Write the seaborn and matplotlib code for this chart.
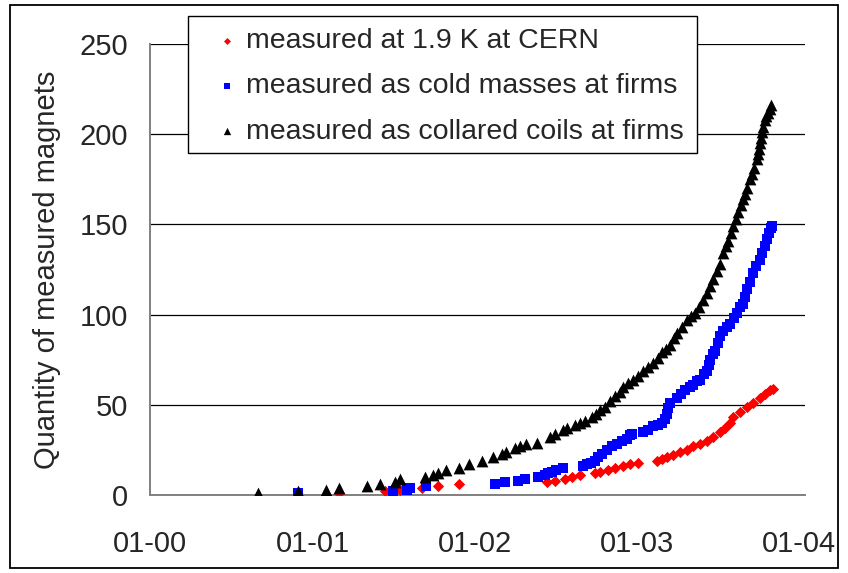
import numpy as np
import pandas as pd
import matplotlib
matplotlib.use("Agg")
import matplotlib.pyplot as plt
import matplotlib.dates as mdates
from matplotlib.patches import Rectangle
import seaborn as sns

# Measurement dates (decimal years) and cumulative number of measured magnets
red_t = [2001.165, 2001.448, 2001.541, 2001.676, 2001.775, 2001.904, 2002.447, 2002.496,
         2002.558, 2002.601, 2002.650, 2002.743, 2002.773, 2002.823, 2002.866, 2002.915,
         2002.958, 2003.008, 2003.125, 2003.156, 2003.186, 2003.223, 2003.267, 2003.310,
         2003.347, 2003.390, 2003.433, 2003.470, 2003.513, 2003.544, 2003.575, 2003.593,
         2003.636, 2003.680, 2003.716, 2003.760, 2003.791, 2003.821, 2003.840]
red_n = [1, 2, 3, 4, 5, 6, 7, 8, 9, 10, 11, 12, 13, 14, 15, 16, 17, 18, 19, 20, 21, 22,
         24, 25, 27, 28, 30, 32, 35, 37, 40, 43, 46, 49, 51, 54, 56, 58, 59]

blue_t = [2000.912, 2001.498, 2001.584, 2001.602, 2001.701, 2002.126, 2002.188, 2002.268,
          2002.311, 2002.391, 2002.435, 2002.453, 2002.478, 2002.502, 2002.545, 2002.669,
          2002.693, 2002.718, 2002.743, 2002.761, 2002.786, 2002.817, 2002.847, 2002.878,
          2002.909, 2002.940, 2002.958, 2002.971, 2003.039, 2003.069, 2003.100, 2003.131,
          2003.156, 2003.174, 2003.186, 2003.193, 2003.205, 2003.248, 2003.273, 2003.297,
          2003.328, 2003.347, 2003.371, 2003.390, 2003.414, 2003.433, 2003.445, 2003.451,
          2003.470, 2003.482, 2003.501, 2003.513, 2003.532, 2003.556, 2003.575, 2003.599,
          2003.618, 2003.636, 2003.655, 2003.667, 2003.680, 2003.698, 2003.716, 2003.735,
          2003.760, 2003.772, 2003.791, 2003.803, 2003.815, 2003.827, 2003.834]
blue_n = [1, 2, 3, 4, 5, 6, 7, 8, 9, 10, 11, 12, 13, 14, 15, 16, 17, 18, 19, 21, 23, 25,
          27, 28, 30, 31, 33, 34, 35, 36, 38, 39, 40, 42, 45, 48, 51, 54, 56, 58, 60, 61,
          63, 64, 67, 69, 72, 75, 78, 80, 84, 88, 91, 93, 95, 98, 101, 104, 106, 110, 114,
          118, 123, 127, 130, 134, 138, 142, 145, 148, 149]

black_t = [2000.666, 2000.912, 2001.085, 2001.165, 2001.337, 2001.418, 2001.510, 2001.541,
           2001.695, 2001.744, 2001.775, 2001.824, 2001.904, 2001.966, 2002.046, 2002.114,
           2002.169, 2002.194, 2002.250, 2002.280, 2002.317, 2002.385, 2002.465, 2002.496,
           2002.545, 2002.570, 2002.619, 2002.650, 2002.681, 2002.724, 2002.749, 2002.773,
           2002.804, 2002.835, 2002.866, 2002.897, 2002.915, 2002.946, 2002.977, 2003.008,
           2003.039, 2003.069, 2003.100, 2003.131, 2003.156, 2003.180, 2003.205, 2003.230,
           2003.248, 2003.279, 2003.310, 2003.334, 2003.359, 2003.384, 2003.408, 2003.433,
           2003.451, 2003.470, 2003.495, 2003.513, 2003.532, 2003.550, 2003.562, 2003.581,
           2003.593, 2003.612, 2003.624, 2003.643, 2003.655, 2003.667, 2003.680, 2003.698,
           2003.710, 2003.723, 2003.741, 2003.747, 2003.753, 2003.760, 2003.766, 2003.772,
           2003.778, 2003.791, 2003.797, 2003.809, 2003.821, 2003.827]
black_n = [1, 2, 3, 4, 5, 6, 7, 9, 10, 11, 12, 14, 15, 17, 19, 21, 23, 24, 26, 27, 28, 29,
           32, 34, 36, 37, 39, 40, 41, 43, 45, 47, 49, 52, 55, 57, 60, 62, 64, 66, 69, 71,
           73, 76, 79, 81, 83, 87, 90, 93, 97, 99, 101, 104, 108, 112, 116, 120, 124, 128,
           134, 138, 141, 145, 149, 153, 157, 161, 164, 167, 170, 175, 178, 181, 186, 189,
           192, 195, 198, 201, 204, 208, 210, 212, 214, 216]

labels = ["measured at 1.9 K at CERN",
          "measured as cold masses at firms",
          "measured as collared coils at firms"]
y_ticks = [0, 50, 100, 150, 200, 250]
x_years = [2000, 2001, 2002, 2003, 2004]


def to_dates(years):
    out = []
    for y in years:
        yr = int(np.floor(y))
        start = pd.Timestamp(yr, 1, 1)
        days = (pd.Timestamp(yr + 1, 1, 1) - start).days
        out.append(start + pd.Timedelta(days=(y - yr) * days))
    return out


sns.set_style("white")
plt.rcParams["font.family"] = ["Liberation Sans", "DejaVu Sans"]
FS = 21
LEG_FS = 20.5

W, H = 848, 573
fig = plt.figure(figsize=(W / 100, H / 100), dpi=100)
ax = fig.add_axes([150 / W, 1 - 495 / H, (805 - 150) / W, (495 - 44) / H])

series = [
    (red_t, red_n, "#ff0000", "D", 33),
    (blue_t, blue_n, "#0000ff", "s", 50),
    (black_t, black_n, "#000000", "^", 72),
]
for (t, n, color, marker, size), lab in zip(series, labels):
    df = pd.DataFrame({"date": to_dates(t), "count": n})
    sns.scatterplot(data=df, x="date", y="count", ax=ax, color=color, marker=marker,
                    s=size, linewidth=0, label=lab, zorder=3)

ax.set_xlim(pd.Timestamp(2000, 1, 1), pd.Timestamp(2004, 1, 14))
ax.set_ylim(0, 250)
ax.set_yticks(y_ticks)
ax.set_xticks([pd.Timestamp(y, 1, 1) for y in x_years])
ax.xaxis.set_major_formatter(mdates.DateFormatter("%m-%y"))

ax.yaxis.grid(True, color="black", linewidth=0.9)
ax.xaxis.grid(False)
ax.set_axisbelow(True)
for side in ["top", "right"]:
    ax.spines[side].set_visible(False)
for side in ["left", "bottom"]:
    ax.spines[side].set_color("#808080")
    ax.spines[side].set_linewidth(1.4)

ax.tick_params(axis="y", length=6, width=1.0, color="#404040", pad=10, labelsize=FS)
ax.tick_params(axis="x", length=6, width=1.0, color="#404040", pad=19, labelsize=FS)

ax.set_xlabel("")
ax.set_ylabel("Quantity of measured magnets", fontsize=FS)
ax.yaxis.label.set_va("center")
ax.yaxis.set_label_coords((47 - 150) / 655, 0.5)

# legend box, then the legend entries drawn inside it
box = Rectangle((188 / W, 1 - 153 / H), (697 - 188) / W, (153 - 16) / H,
                transform=fig.transFigure, facecolor="white", edgecolor="black",
                linewidth=1.0, zorder=4.5, clip_on=False)
ax.add_patch(box)
leg = ax.legend(loc="upper left", bbox_to_anchor=(213 / W, 1 - 28 / H),
                bbox_transform=fig.transFigure, frameon=False, fontsize=LEG_FS,
                markerscale=0.62, handlelength=1.0, handletextpad=0.16,
                labelspacing=0.68, borderpad=0, borderaxespad=0)
leg.set_zorder(5)

# chart area border
fig.patches.append(Rectangle((10 / W, 5 / H), (838 - 10) / W, (568 - 5) / H,
                             transform=fig.transFigure, fill=False,
                             edgecolor="black", linewidth=1.3))

fig.savefig("out.png", dpi=100)
